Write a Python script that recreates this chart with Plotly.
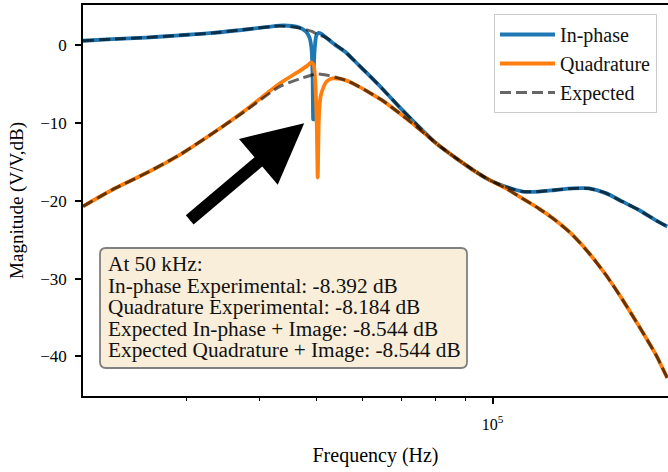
import math
import plotly.graph_objects as go

# ---------------- data ----------------
inphase_freq = [20000, 22400, 25600, 29200, 33300, 37900, 41000, 43300, 45500, 46800,
                48000, 48700, 49100, 49300, 49400, 49500, 49700, 50000, 50400, 51000,
                52000, 54000, 56200, 58500, 61100, 64900, 69300, 74000, 79000, 81400,
                86600, 92500, 98700, 105400, 112500, 120000, 128000, 137000, 146000,
                156000, 166600, 178000, 190000, 198700]
inphase_db = [0.6, 0.8, 1.0, 1.3, 1.6, 2.05, 2.35, 2.55, 2.5, 2.3,
              1.8, 1.0, -0.5, -4.0, -9.5, -4.0, -0.5, 1.2, 1.6, 1.5,
              1.0, 0.0, -0.9, -2.2, -3.6, -5.6, -7.9, -10.1, -12.2, -13.0,
              -14.5, -16.0, -17.3, -18.2, -18.8, -18.8, -18.6, -18.4, -18.4,
              -19.0, -20.1, -21.2, -22.5, -23.3]

quad_freq = [20000, 22400, 25600, 29200, 33300, 37900, 43300, 46800, 48300, 49000,
             49500, 49800, 50100, 50300, 50500, 50700, 50900, 51500, 52000, 53300,
             55000, 56200, 58500, 61100, 64900, 69300, 74000, 79000, 81400, 86600,
             92500, 98700, 105400, 112500, 120000, 128000, 137000, 146000, 156000,
             166600, 178000, 190000, 198700]
quad_db = [-20.7, -18.6, -16.45, -14.1, -11.3, -8.3, -4.9, -3.3, -2.6, -2.2,
           -2.5, -4.5, -10.0, -17.0, -10.0, -7.5, -6.5, -5.3, -4.7, -4.25,
           -4.3, -4.5, -5.1, -5.9, -7.1, -8.7, -10.4, -12.2, -13.0, -14.5,
           -16.0, -17.3, -18.4, -19.7, -21.0, -22.5, -24.4, -26.7, -29.5,
           -32.7, -36.2, -39.8, -42.8]

expected_freq = [20000, 22400, 25600, 29200, 33300, 37900, 43300, 46800, 49200, 50000,
                 52000, 54000, 56200, 58500, 61100, 64900, 69300, 74000, 79000, 81400,
                 86600, 92500, 98700, 105400, 112500, 120000, 128000, 137000, 146000,
                 156000, 166600, 178000, 190000, 198700]
expected_inphase_db = [0.6, 0.8, 1.0, 1.3, 1.6, 2.05, 2.5, 2.25, 1.8, 1.5,
                       1.0, 0.1, -0.9, -2.2, -3.6, -5.6, -7.9, -10.1, -12.2, -13.0,
                       -14.5, -16.0, -17.3, -18.2, -18.8, -18.8, -18.6, -18.4, -18.4,
                       -19.0, -20.1, -21.2, -22.5, -23.3]
expected_quad_db = [-20.7, -18.6, -16.45, -14.1, -11.3, -8.4, -5.3, -4.3, -3.8, -3.65,
                    -3.8, -4.1, -4.5, -5.1, -5.9, -7.1, -8.7, -10.4, -12.2, -13.0,
                    -14.5, -16.0, -17.3, -18.4, -19.7, -21.0, -22.5, -24.4, -26.7,
                    -29.5, -32.7, -36.2, -39.8, -42.8]

series_names = ["In-phase", "Quadrature", "Expected"]
y_tickvals = [-40, -30, -20, -10, 0]
y_ticktext = ["\u221240", "\u221230", "\u221220", "\u221210", "0"]
x_tickvals = [1e5]
x_ticktext = ["10<sup>5</sup>"]
x_minor_tickvals = [30000, 40000, 50000, 60000, 70000, 80000, 90000, 200000]
box_lines = [
    "At 50 kHz:",
    "In-phase Experimental: -8.392 dB",
    "Quadrature Experimental: -8.184 dB",
    "Expected In-phase + Image: -8.544 dB",
    "Expected Quadrature + Image: -8.544 dB",
]
arrow_target = (47700, -10.0)

# ---------------- layout geometry ----------------
W, H = 668, 472
ML, MR, MT, MB = 83, 0, 5, 76
PW, PH = W - ML - MR, H - MT - MB
FONT = "Liberation Serif"

def px(x):
    return (x - ML) / PW

def py(y):
    return 1 - (y - MT) / PH

BLUE = "#1f77b4"
ORANGE = "#ff7f0e"
DASHC = "rgba(0,0,0,0.6)"

fig = go.Figure()
fig.add_trace(go.Scatter(x=inphase_freq, y=inphase_db, mode="lines", name=series_names[0],
                         line=dict(color=BLUE, width=3.8, shape="spline", smoothing=0.6),
                         legendgroup="a"))
fig.add_trace(go.Scatter(x=quad_freq, y=quad_db, mode="lines", name=series_names[1],
                         line=dict(color=ORANGE, width=3.8, shape="spline", smoothing=0.6),
                         legendgroup="b"))
fig.add_trace(go.Scatter(x=expected_freq, y=expected_inphase_db, mode="lines", name=series_names[2],
                         line=dict(color=DASHC, width=3, dash="11px,5px", shape="spline", smoothing=0.6),
                         legendgroup="c"))
fig.add_trace(go.Scatter(x=expected_freq, y=expected_quad_db, mode="lines", name=series_names[2],
                         line=dict(color=DASHC, width=3, dash="11px,5px", shape="spline", smoothing=0.6),
                         legendgroup="c", showlegend=False))

x0 = math.log10(20000)
fig.update_xaxes(type="log", range=[x0, x0 + PW / 586.0],
                 showline=True, linecolor="black", linewidth=1.5, mirror=True,
                 ticks="outside", ticklen=6, tickwidth=1.5, tickcolor="black",
                 tickvals=x_tickvals, ticktext=x_ticktext, ticklabelstandoff=7,
                 tickfont=dict(family=FONT, size=16, color="black"),
                 minor=dict(ticks="outside", ticklen=3.5, tickwidth=1.2, tickcolor="black",
                            tickvals=x_minor_tickvals, showgrid=False),
                 showgrid=False, zeroline=False,
                 title=dict(text="Frequency (Hz)", font=dict(family=FONT, size=20, color="black"),
                            standoff=16))
fig.update_yaxes(range=[-45.1, 5.2], showline=True, linecolor="black", linewidth=1.5,
                 mirror=False, ticks="outside", ticklen=6, tickwidth=1.5, tickcolor="black",
                 tickvals=y_tickvals, ticktext=y_ticktext, ticklabelstandoff=5,
                 tickfont=dict(family=FONT, size=17, color="black"),
                 showgrid=False, zeroline=False,
                 title=dict(text="Magnitude (V/V,dB)", font=dict(family=FONT, size=19, color="black"),
                            standoff=12))

# rounded text box
bx0, bx1, by0, by1, r = 100, 467, 248, 368, 6
rx, ry = r / PW, r / PH
X0, X1, Y0, Y1 = px(bx0), px(bx1), py(by1), py(by0)
path = (f"M{X0+rx},{Y0} L{X1-rx},{Y0} Q{X1},{Y0} {X1},{Y0+ry} L{X1},{Y1-ry} "
        f"Q{X1},{Y1} {X1-rx},{Y1} L{X0+rx},{Y1} Q{X0},{Y1} {X0},{Y1-ry} "
        f"L{X0},{Y0+ry} Q{X0},{Y0} {X0+rx},{Y0} Z")
fig.add_shape(type="path", path=path, xref="paper", yref="paper",
              fillcolor="#f9eed9", line=dict(color="#808080", width=1.8), layer="above")

line_y = [264, 285.5, 307, 328.5, 350]
for txt, yy in zip(box_lines, line_y):
    fig.add_annotation(text=txt, xref="paper", yref="paper", x=px(106), y=py(yy),
                       xanchor="left", yanchor="middle", showarrow=False,
                       font=dict(family=FONT, size=21.3, color="#111111"))

# arrow
fig.add_annotation(x=math.log10(arrow_target[0]), y=arrow_target[1], xref="x", yref="y",
                   ax=-116, ay=98, text="", showarrow=True, arrowhead=2, arrowsize=1.0,
                   arrowwidth=12, arrowcolor="black", standoff=0)

fig.update_layout(width=W, height=H, autosize=False,
                  margin=dict(l=ML, r=MR, t=MT, b=MB),
                  paper_bgcolor="white", plot_bgcolor="white",
                  font=dict(family=FONT, color="black"),
                  legend=dict(x=px(657), y=py(14), xanchor="right", yanchor="top",
                              bgcolor="white", bordercolor="#cccccc", borderwidth=1,
                              font=dict(family=FONT, size=20, color="#111111"),
                              traceorder="grouped", tracegroupgap=0, itemwidth=55))

fig.write_html("out.html")
